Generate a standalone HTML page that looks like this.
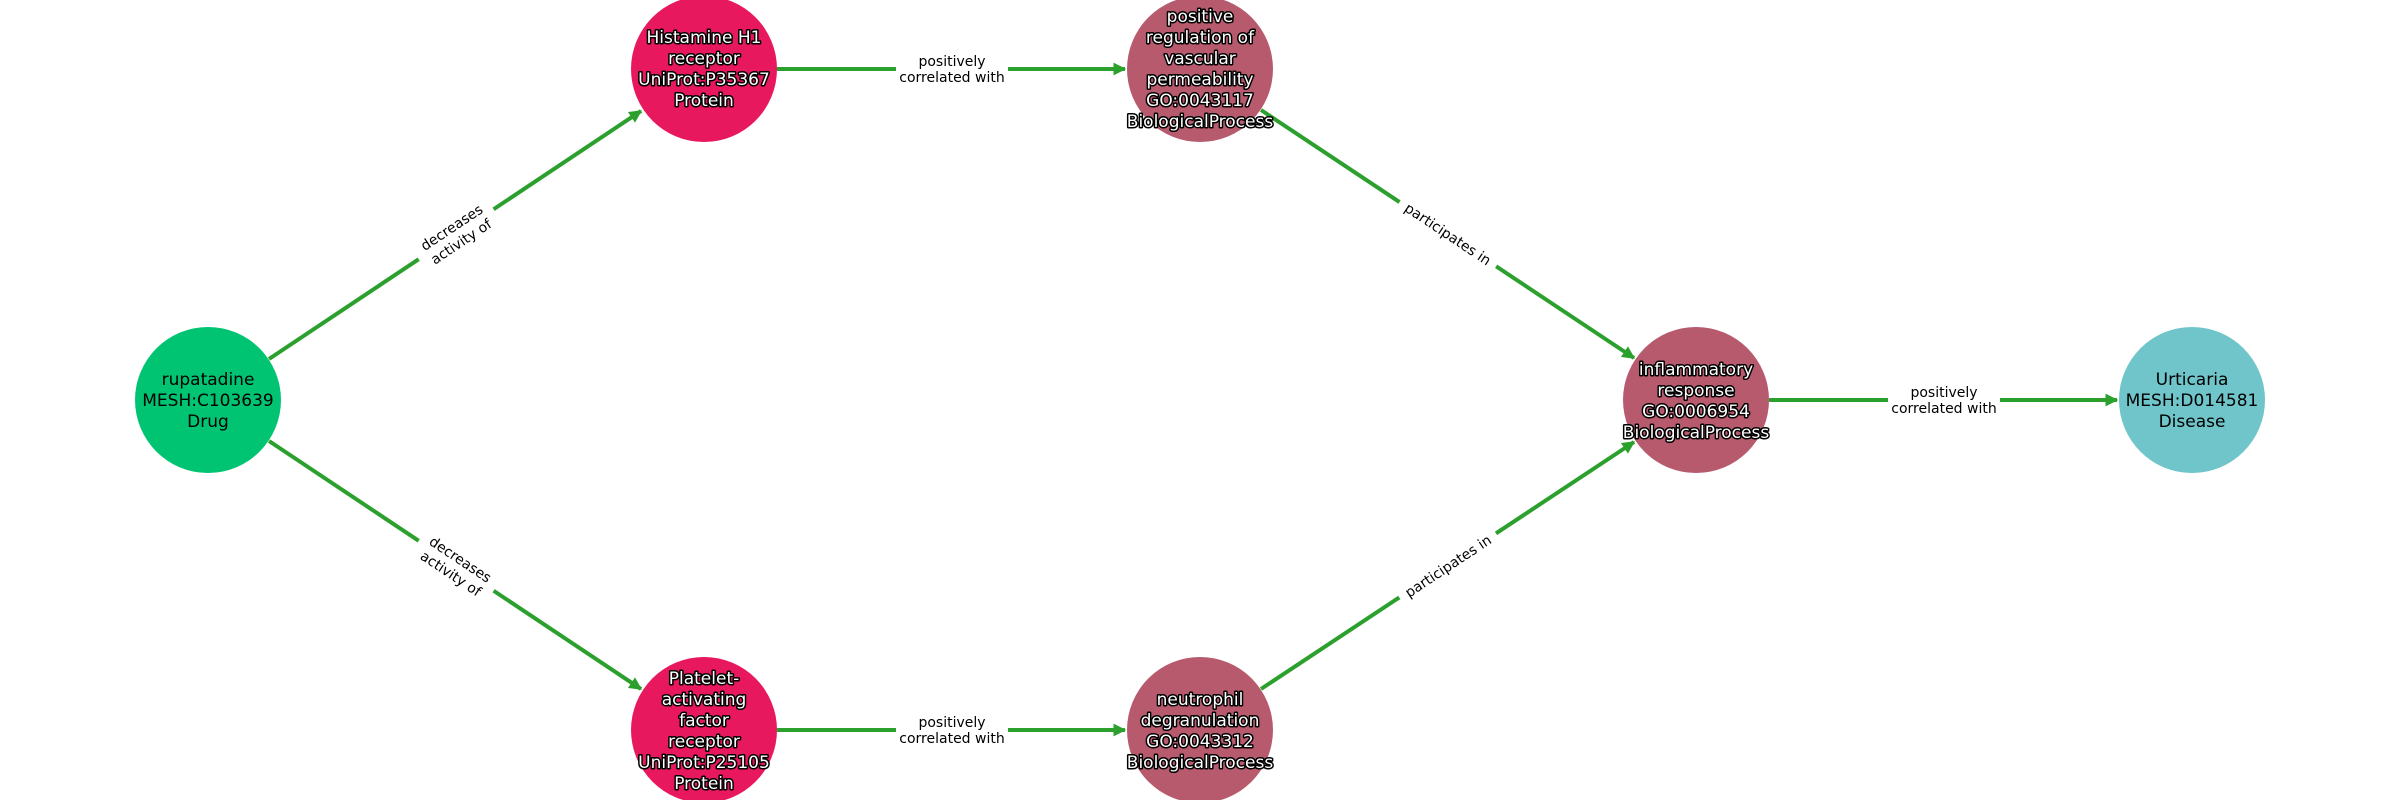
<!DOCTYPE html>
<html><head><meta charset="utf-8"><style>
html,body{margin:0;padding:0;background:#fff;}
svg{display:block;}
text{font-family:"DejaVu Sans","Liberation Sans",sans-serif;}
.n{font-size:17px;text-anchor:middle;}
.h{fill:#fff;stroke:#000;stroke-width:3px;paint-order:stroke;stroke-linejoin:round;}
.b{fill:#000;}
.e{font-size:14px;text-anchor:middle;fill:#000;}
</style></head><body>
<svg width="2400" height="800" viewBox="0 0 2400 800" xmlns="http://www.w3.org/2000/svg">
<defs>
<marker id="a" viewBox="0 0 10 10" refX="9" refY="5" markerWidth="3.2" markerHeight="3.2" orient="auto" markerUnits="strokeWidth">
<path d="M0,0 L10,5 L0,10 z" fill="#2ca02c"/></marker>
</defs>
<g stroke="#2ca02c" stroke-width="4" fill="none">
<line x1="269" y1="359" x2="641" y2="111" marker-end="url(#a)"/>
<line x1="269" y1="441" x2="641" y2="689" marker-end="url(#a)"/>
<line x1="777" y1="69" x2="1125" y2="69" marker-end="url(#a)"/>
<line x1="777" y1="730" x2="1125" y2="730" marker-end="url(#a)"/>
<line x1="1261" y1="110" x2="1634" y2="358" marker-end="url(#a)"/>
<line x1="1261" y1="689" x2="1634" y2="442" marker-end="url(#a)"/>
<line x1="1769" y1="400" x2="2117" y2="400" marker-end="url(#a)"/>
</g>
<g>
<g transform="translate(456,234) rotate(-33.7)"><rect x="-45" y="-20" width="90" height="38" fill="#fff"/><text class="e" y="-3">decreases</text><text class="e" y="14">activity of</text></g>
<g transform="translate(456,566) rotate(33.7)"><rect x="-45" y="-20" width="90" height="38" fill="#fff"/><text class="e" y="-3">decreases</text><text class="e" y="14">activity of</text></g>
<g transform="translate(1448,234) rotate(33.7)"><rect x="-58" y="-14" width="116" height="26" fill="#fff"/><text class="e" y="5">participates in</text></g>
<g transform="translate(1448,566) rotate(-33.7)"><rect x="-58" y="-14" width="116" height="26" fill="#fff"/><text class="e" y="5">participates in</text></g>
<g transform="translate(952,69)"><rect x="-56" y="-18" width="112" height="36" fill="#fff"/><text class="e" y="-3">positively</text><text class="e" y="13">correlated with</text></g>
<g transform="translate(952,730)"><rect x="-56" y="-18" width="112" height="36" fill="#fff"/><text class="e" y="-3">positively</text><text class="e" y="13">correlated with</text></g>
<g transform="translate(1944,400)"><rect x="-56" y="-18" width="112" height="36" fill="#fff"/><text class="e" y="-3">positively</text><text class="e" y="13">correlated with</text></g>
</g>
<circle cx="208" cy="400" r="73" fill="#00c472"/>
<circle cx="704" cy="69" r="73" fill="#e8185f"/>
<circle cx="704" cy="730" r="73" fill="#e8185f"/>
<circle cx="1200" cy="69" r="73" fill="#b85a6e"/>
<circle cx="1200" cy="730" r="73" fill="#b85a6e"/>
<circle cx="1696" cy="400" r="73" fill="#b85a6e"/>
<circle cx="2192" cy="400" r="73" fill="#6fc5c9"/>
<text class="n b" x="208" y="385">rupatadine</text>
<text class="n b" x="208" y="406">MESH:C103639</text>
<text class="n b" x="208" y="427">Drug</text>
<text class="n b" x="2192" y="385">Urticaria</text>
<text class="n b" x="2192" y="406">MESH:D014581</text>
<text class="n b" x="2192" y="427">Disease</text>
<g class="n h">
<text x="704" y="43">Histamine H1</text>
<text x="704" y="64">receptor</text>
<text x="704" y="85">UniProt:P35367</text>
<text x="704" y="106">Protein</text>
<text x="704" y="684">Platelet-</text>
<text x="704" y="705">activating</text>
<text x="704" y="726">factor</text>
<text x="704" y="747">receptor</text>
<text x="704" y="768">UniProt:P25105</text>
<text x="704" y="789">Protein</text>
<text x="1200" y="22">positive</text>
<text x="1200" y="43">regulation of</text>
<text x="1200" y="64">vascular</text>
<text x="1200" y="85">permeability</text>
<text x="1200" y="106">GO:0043117</text>
<text x="1200" y="127">BiologicalProcess</text>
<text x="1200" y="705">neutrophil</text>
<text x="1200" y="726">degranulation</text>
<text x="1200" y="747">GO:0043312</text>
<text x="1200" y="768">BiologicalProcess</text>
<text x="1696" y="375">inflammatory</text>
<text x="1696" y="396">response</text>
<text x="1696" y="417">GO:0006954</text>
<text x="1696" y="438">BiologicalProcess</text>
</g>
</svg>
</body></html>
